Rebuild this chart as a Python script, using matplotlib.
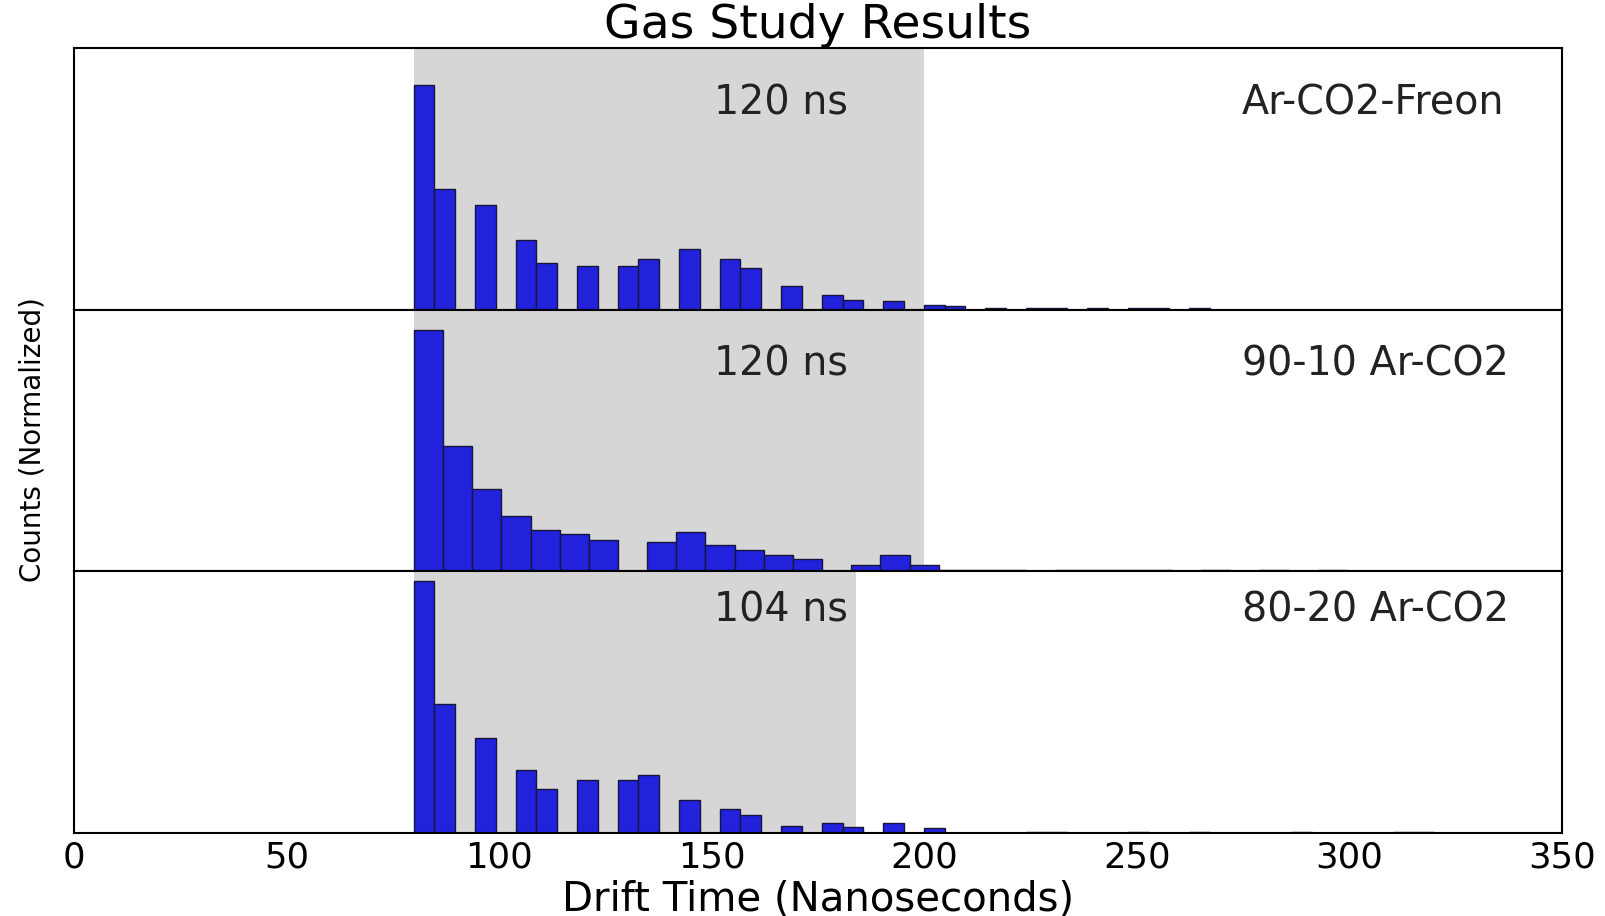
import numpy as np
import matplotlib.pyplot as plt

gases = ["Ar-CO2-Freon", "90-10 Ar-CO2", "80-20 Ar-CO2"]
window_labels = ["120 ns", "120 ns", "104 ns"]
window_start = 80
window_end = [200, 200, 184]
label_y = [0.79, 0.79, 0.85]

# histogram bin edges (ns)
freon_edges = np.linspace(80, 272, 41)
ar9010_edges = np.linspace(80, 320, 36)
ar8020_edges = np.linspace(80, 320, 51)

# normalized counts per bin
freon_counts = [0.894, 0.480, 0, 0.415, 0, 0.276, 0.187, 0, 0.175, 0,
                0.175, 0.203, 0, 0.240, 0, 0.203, 0.167, 0, 0.093, 0,
                0.060, 0.040, 0, 0.033, 0, 0.020, 0.013, 0, 0.006, 0,
                0.005, 0.008, 0, 0.008, 0, 0.005, 0.005, 0, 0.006, 0]
ar9010_counts = [0.959, 0.496, 0.325, 0.220, 0.163, 0.149, 0.122, 0, 0.115, 0.155,
                 0.102, 0.083, 0.065, 0.049, 0, 0.023, 0.065, 0.023, 0.004, 0.004,
                 0.004, 0, 0.003, 0.003, 0.003, 0.003, 0, 0.003, 0, 0.003,
                 0, 0.003, 0, 0, 0]
ar8020_counts = [1.0, 0.512, 0, 0.378, 0, 0.248, 0.175, 0, 0.21, 0,
                 0.21, 0.228, 0, 0.13, 0, 0.093, 0.069, 0, 0.025, 0,
                 0.039, 0.024, 0, 0.039, 0, 0.019, 0, 0, 0, 0,
                 0.004, 0.004, 0, 0, 0, 0.004, 0, 0, 0.004, 0,
                 0, 0, 0, 0.004, 0, 0, 0, 0, 0.004, 0.004]

edges_list = [freon_edges, ar9010_edges, ar8020_edges]
counts_list = [freon_counts, ar9010_counts, ar8020_counts]

fig, axes = plt.subplots(3, 1, sharex=True, sharey=True, figsize=(16.06, 9.16), dpi=100)
fig.subplots_adjust(left=0.046, right=0.9725, top=0.9475, bottom=0.091, hspace=0)

for i, ax in enumerate(axes):
    edges = edges_list[i]
    ax.axvspan(window_start, window_end[i], color="#d6d6d6", lw=0, zorder=0)
    ax.bar(edges[:-1], counts_list[i], width=np.diff(edges), align="edge",
           color="#2222dd", edgecolor="#15153a", linewidth=1.0, zorder=2)
    tr = ax.get_xaxis_transform()
    ax.text(150.5, label_y[i], window_labels[i], transform=tr, ha="left", va="center",
            fontsize=28.5, color="#222222")
    ax.text(274.8, label_y[i], gases[i], transform=tr, ha="left", va="center",
            fontsize=28.5, color="#222222")
    ax.set_yticks([])
    ax.tick_params(axis="x", length=0, labelsize=25.5, pad=6)
    for s in ax.spines.values():
        s.set_linewidth(1.5)

axes[0].set_xlim(0, 350)
axes[0].set_ylim(0, 1.04)
axes[2].set_xticks(np.arange(0, 351, 50))
axes[2].set_xlabel("Drift Time (Nanoseconds)", fontsize=29, labelpad=3)
axes[0].set_title("Gas Study Results", fontsize=34, pad=4)
fig.text(0.0205, 0.52, "Counts (Normalized)", rotation=90, ha="center", va="center",
         fontsize=20)

fig.savefig("out.png")
